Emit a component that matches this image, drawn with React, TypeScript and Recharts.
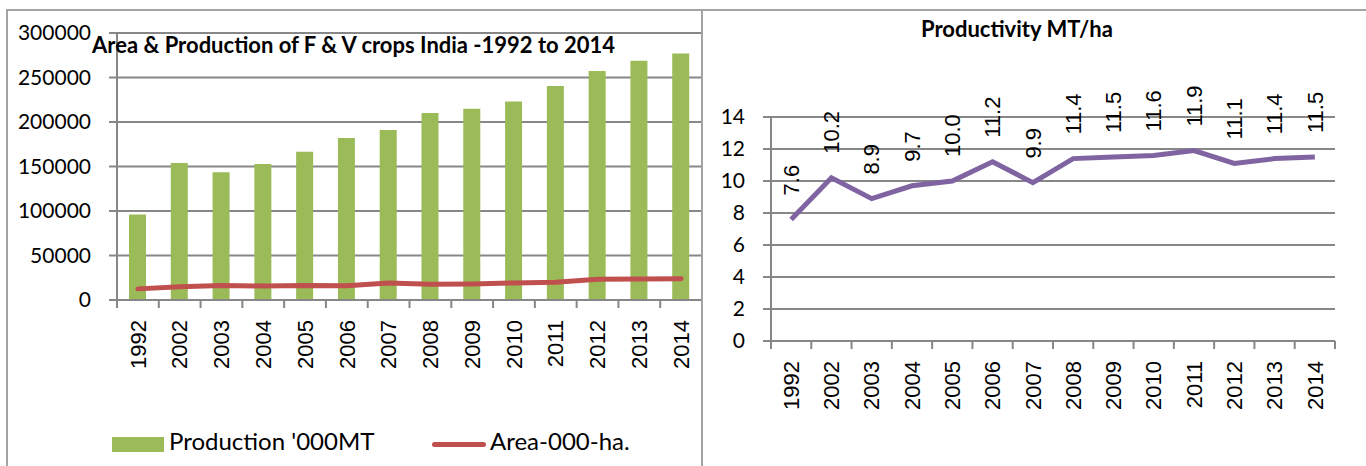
import React from 'react';
import {
    ComposedChart, Bar, Line, XAxis, YAxis, CartesianGrid, Legend, LabelList,
} from 'recharts';

// Years shown on both charts
const years = ['1992', '2002', '2003', '2004', '2005', '2006', '2007', '2008', '2009', '2010', '2011', '2012', '2013', '2014'];

// Production '000MT (bars)
const production = [96000, 154000, 143600, 152800, 166600, 182000, 191000, 210000, 214800, 223000, 240500, 257300, 268800, 277000];

// Area '000 ha (red line)
const area = [12500, 15000, 16200, 15800, 16400, 15900, 19200, 17800, 18000, 19200, 19900, 23200, 23700, 24000];

// Productivity MT/ha
const productivity = [7.6, 10.2, 8.9, 9.7, 10.0, 11.2, 9.9, 11.4, 11.5, 11.6, 11.9, 11.1, 11.4, 11.5];

const leftTicks = [0, 50000, 100000, 150000, 200000, 250000, 300000];
const rightTicks = [0, 2, 4, 6, 8, 10, 12, 14];

const GREEN = '#9bbb59';
const RED = '#c0504d';
const PURPLE = '#8064a2';
const GRID = '#878787';
const BORDER = '#a3a3a3';
const LABEL_FONT = '"Liberation Sans", Arial, sans-serif';
const NUM_FONT = 'Lato, "Open Sans", sans-serif';

const leftData = years.map((y, i) => ({ year: y, production: production[i], area: area[i] }));
const rightData = years.map((y, i) => ({ year: y, productivity: productivity[i] }));

// left chart geometry
const L_W = 702;
const L_H = 466;
const L_YAXIS = 117;
const L_BAND = (L_W - L_YAXIS) / years.length;

// right chart geometry
const R_W = 664;
const R_H = 466;
const R_YAXIS = 69;
const R_RIGHT = 31;
const R_BAND = (R_W - R_YAXIS - R_RIGHT) / years.length;

const makeYearTick = (band: number) => (props: any) => {
    const { x, y, payload, index, visibleTicksCount } = props;
    const last = index === visibleTicksCount - 1;
    return (
        <g>
            <line x1={x - band / 2} y1={y} x2={x - band / 2} y2={y + 8} stroke={GRID} strokeWidth={2} />
            {last && <line x1={x + band / 2} y1={y} x2={x + band / 2} y2={y + 8} stroke={GRID} strokeWidth={2} />}
            <text
                x={x}
                y={y + 20}
                transform={`rotate(-90, ${x}, ${y + 20})`}
                textAnchor="end"
                dy="0.35em"
                fontFamily={LABEL_FONT}
                fontSize={22}
                fill="#000"
            >
                {payload.value}
            </text>
        </g>
    );
};

const ProdLabel = (props: any) => {
    const { x, y, value } = props;
    const ay = y - 24;
    return (
        <text
            x={x}
            y={ay}
            transform={`rotate(-90, ${x}, ${ay})`}
            textAnchor="start"
            dy="0.35em"
            fontFamily={LABEL_FONT}
            fontSize={22}
            fill="#000"
        >
            {Number(value).toFixed(1)}
        </text>
    );
};

const LegendContent = () => (
    <div style={{ position: 'relative', height: 36, fontFamily: NUM_FONT, fontSize: 24, color: '#000' }}>
        <div style={{ position: 'absolute', left: 112, top: 11, width: 52, height: 15, background: GREEN }} />
        <div style={{ position: 'absolute', left: 169, top: 0, whiteSpace: 'nowrap' }}>Production '000MT</div>
        <div style={{ position: 'absolute', left: 432, top: 16, width: 54, height: 5, borderRadius: 3, background: RED }} />
        <div style={{ position: 'absolute', left: 490, top: 0, whiteSpace: 'nowrap' }}>Area-000-ha.</div>
    </div>
);

export default function App() {
    const yTick = { fontFamily: NUM_FONT, fontSize: 21, fill: '#000' };
    return (
        <div style={{ position: 'absolute', left: 0, top: 0, width: 1366, height: 466, overflow: 'hidden', background: '#fff' }}>
            <div style={{ position: 'absolute', left: 0, top: 0, width: L_W, height: L_H }}>
                <ComposedChart width={L_W} height={L_H} data={leftData} margin={{ top: 33, right: 0, bottom: 96, left: 0 }}>
                    <CartesianGrid vertical={false} stroke={GRID} strokeWidth={2} />
                    <XAxis
                        dataKey="year"
                        scale="band"
                        interval={0}
                        height={70}
                        tickSize={0}
                        tickMargin={0}
                        axisLine={{ stroke: GRID, strokeWidth: 2 }}
                        tick={makeYearTick(L_BAND)}
                    />
                    <YAxis
                        width={L_YAXIS}
                        domain={[0, 300000]}
                        ticks={leftTicks}
                        interval={0}
                        tickSize={8}
                        tickMargin={18}
                        axisLine={{ stroke: GRID, strokeWidth: 2 }}
                        tickLine={{ stroke: GRID, strokeWidth: 2 }}
                        tick={yTick}
                    />
                    <Bar dataKey="production" name="Production '000MT" fill={GREEN} barSize={17} isAnimationActive={false} />
                    <Line
                        dataKey="area"
                        name="Area-000-ha."
                        type="linear"
                        stroke={RED}
                        strokeWidth={5}
                        strokeLinecap="round"
                        dot={false}
                        activeDot={false}
                        isAnimationActive={false}
                    />
                    <Legend
                        layout="horizontal"
                        verticalAlign="middle"
                        align="center"
                        wrapperStyle={{ left: 0, top: 426, width: L_W, height: 36 }}
                        content={<LegendContent />}
                    />
                </ComposedChart>
            </div>
            <div
                style={{
                    position: 'absolute', left: 92, top: 31, fontFamily: NUM_FONT, fontWeight: 700,
                    fontSize: 22, whiteSpace: 'nowrap', color: '#000',
                }}
            >
                Area &amp; Production of F &amp; V crops India -1992 to 2014
            </div>

            <div style={{ position: 'absolute', left: 702, top: 0, width: R_W, height: R_H }}>
                <ComposedChart width={R_W} height={R_H} data={rightData} margin={{ top: 117, right: R_RIGHT, bottom: 55, left: 0 }}>
                    <CartesianGrid vertical={false} stroke={GRID} strokeWidth={2} />
                    <XAxis
                        dataKey="year"
                        scale="band"
                        interval={0}
                        height={70}
                        tickSize={0}
                        tickMargin={0}
                        axisLine={{ stroke: GRID, strokeWidth: 2 }}
                        tick={makeYearTick(R_BAND)}
                    />
                    <YAxis
                        width={R_YAXIS}
                        domain={[0, 14]}
                        ticks={rightTicks}
                        interval={0}
                        tickSize={8}
                        tickMargin={18}
                        axisLine={{ stroke: GRID, strokeWidth: 2 }}
                        tickLine={{ stroke: GRID, strokeWidth: 2 }}
                        tick={yTick}
                    />
                    <Line
                        dataKey="productivity"
                        type="linear"
                        stroke={PURPLE}
                        strokeWidth={5}
                        dot={false}
                        activeDot={false}
                        isAnimationActive={false}
                    >
                        <LabelList dataKey="productivity" content={<ProdLabel />} />
                    </Line>
                </ComposedChart>
            </div>
            <div
                style={{
                    position: 'absolute', left: 921, top: 15, fontFamily: NUM_FONT, fontWeight: 700,
                    fontSize: 22, whiteSpace: 'nowrap', color: '#000',
                }}
            >
                Productivity MT/ha
            </div>

            <div style={{ position: 'absolute', left: 7, top: 9, width: 1359, height: 2, background: BORDER }} />
            <div style={{ position: 'absolute', left: 6, top: 9, width: 2, height: 457, background: BORDER }} />
            <div style={{ position: 'absolute', left: 701, top: 9, width: 2, height: 457, background: BORDER }} />
        </div>
    );
}
